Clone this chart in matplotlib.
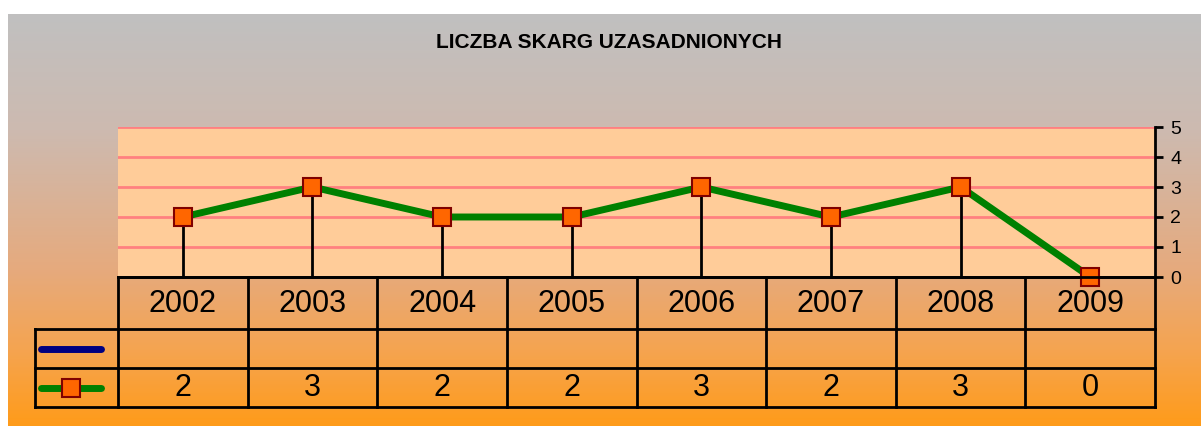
import numpy as np
import matplotlib.pyplot as plt

years = ["2002", "2003", "2004", "2005", "2006", "2007", "2008", "2009"]
complaints = [2, 3, 2, 2, 3, 2, 3, 0]
y_ticks = [0, 1, 2, 3, 4, 5]
title = "LICZBA SKARG UZASADNIONYCH"

plt.rcParams['font.family'] = ['Liberation Sans', 'DejaVu Sans']

W, H = 1201, 426
fig = plt.figure(figsize=(W / 100, H / 100), dpi=100)
fig.patch.set_facecolor('white')


def px_box(x0, y0, x1, y1):
    # pixel box (from top-left) -> figure fraction rect
    return [x0 / W, 1 - y1 / H, (x1 - x0) / W, (y1 - y0) / H]


# background gradient, grey at the top to orange at the bottom
bg = fig.add_axes(px_box(8, 14, W, H))
stops_y = [14, 130, 270, 350, 426]
stops_rgb = np.array([[192, 192, 192], [205, 186, 176], [230, 170, 125],
                      [245, 164, 80], [255, 155, 25]]) / 255
rows = np.arange(14, 426)
grad = np.stack([np.interp(rows, stops_y, stops_rgb[:, c]) for c in range(3)], axis=-1)
bg.imshow(grad[:, None, :], aspect='auto', extent=[0, 1, 1, 0])
bg.axis('off')

fig.text(609 / W, 1 - 43 / H, title, ha='center', va='center',
         fontsize=15, fontweight='bold')

# plot area
x = np.arange(len(years))
ax = fig.add_axes(px_box(118, 127, 1155, 277))
ax.set_facecolor('#FFCC99')
ax.set_xlim(-0.5, len(years) - 0.5)
ax.set_ylim(0, 5)
ax.set_yticks(y_ticks)
ax.set_xticks([])
ax.yaxis.tick_right()
ax.tick_params(axis='y', direction='out', length=6, width=2, labelsize=14, pad=5)
ax.grid(axis='y', color='#FF8080', lw=2)
ax.set_axisbelow(True)
for s in ['left', 'top']:
    ax.spines[s].set_visible(False)
for s in ['right', 'bottom']:
    ax.spines[s].set_linewidth(2)

ax.vlines(x, 0, complaints, color='black', lw=2, zorder=2)
ax.plot(x, complaints, color='#008000', lw=5, zorder=3, marker='s', ms=12.5,
        mfc='#FF6600', mec='#800000', mew=1.5, clip_on=False)

# data table below
col_w = (1155 - 118) / len(years)


def tx(px):
    return -0.5 + (px - 118) / col_w


tax = fig.add_axes(px_box(35, 277, 1155, 407))
tax.set_xlim(tx(35), len(years) - 0.5)
tax.set_ylim(130, 0)
tax.axis('off')
tax.patch.set_visible(False)

row_y = [0, 52, 91, 130]
lk = dict(color='black', lw=2, clip_on=False)
tax.plot([-0.5, 7.5], [0, 0], **lk)
for ry in row_y[1:]:
    tax.plot([tx(35), 7.5], [ry, ry], **lk)
tax.plot([tx(35), tx(35)], [52, 130], **lk)
for i in range(len(years) + 1):
    tax.plot([i - 0.5, i - 0.5], [0, 130], **lk)

for i, (yr, v) in enumerate(zip(years, complaints)):
    tax.text(i, 27, yr, ha='center', va='center', fontsize=22)
    tax.text(i, 111, str(v), ha='center', va='center', fontsize=22)

tax.plot([tx(41), tx(101)], [71.5, 71.5], color='#000080', lw=5,
         solid_capstyle='round', clip_on=False)
tax.plot([tx(41), tx(101)], [110.5, 110.5], color='#008000', lw=5,
         solid_capstyle='round', clip_on=False)
tax.plot([tx(71)], [110.5], marker='s', ms=12.5, mfc='#FF6600', mec='#800000',
         mew=1.5, clip_on=False)

fig.savefig('out.png', dpi=100)
